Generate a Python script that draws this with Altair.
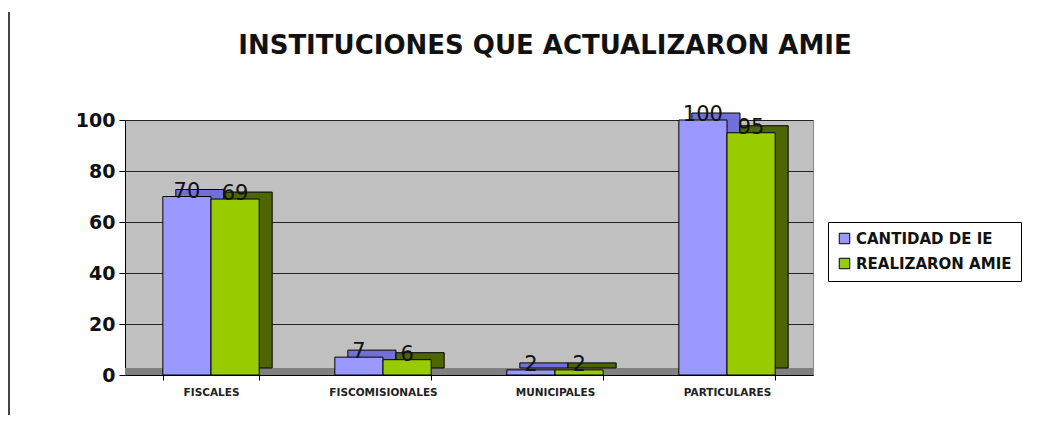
import altair as alt
import pandas as pd

categories = ["FISCALES", "FISCOMISIONALES", "MUNICIPALES", "PARTICULARES"]
series = ["CANTIDAD DE IE", "REALIZARON AMIE"]
cantidad = [70, 7, 2, 100]
realizaron = [69, 6, 2, 95]
title_text = "INSTITUCIONES QUE ACTUALIZARON AMIE"

rows = []
for c, a, b in zip(categories, cantidad, realizaron):
    rows.append({"cat": c, "serie": series[0], "val": a})
    rows.append({"cat": c, "serie": series[1], "val": b})
df = pd.DataFrame(rows)

W, H = 688, 255
FONT = "DejaVu Sans"
STEP = W / 4.0
BW = STEP * 0.56

x = alt.X("cat:N", sort=categories, title=None,
          scale=alt.Scale(paddingInner=0.44, paddingOuter=0.22),
          axis=alt.Axis(labelAngle=0, labelFont=FONT, labelFontSize=10.5, labelFontWeight="bold",
                        labelColor="#222", labelPadding=7, domainColor="#000", tickColor="#000",
                        tickBand="extent", tickSize=5, grid=False))
y = alt.Y("val:Q", title=None,
          scale=alt.Scale(domain=[0, 100]),
          axis=alt.Axis(values=[0, 20, 40, 60, 80, 100], labelFont=FONT, labelFontSize=19,
                        labelFontWeight="bold", labelColor="#111", domainColor="#000",
                        tickColor="#000", tickSize=6, labelPadding=4,
                        gridColor="#222", gridWidth=1))
xo = alt.XOffset("serie:N", sort=series)
xo_shift = alt.XOffset("serie:N", sort=series, scale=alt.Scale(range=[13, BW + 13]))

floor = alt.Chart(pd.DataFrame({"a": [0]})).mark_rect(color="#808080").encode(
    x=alt.value(0), x2=alt.value(W), y=alt.value(H - 7), y2=alt.value(H))

shadow = alt.Chart(df).mark_bar(yOffset=-7, y2Offset=-7, stroke="#000", strokeWidth=1).encode(
    x=x, y=y, xOffset=xo_shift,
    color=alt.Color("serie:N", sort=series, legend=None,
                    scale=alt.Scale(domain=series, range=["#7070d8", "#4d6600"])))

bars = alt.Chart(df).mark_bar(stroke="#000", strokeWidth=1).encode(
    x=x, y=y, xOffset=xo,
    color=alt.Color("serie:N", sort=series, title=None,
                    scale=alt.Scale(domain=series, range=["#9999ff", "#99cc00"]),
                    legend=alt.Legend(orient="none", legendX=703, legendY=102,
                                      labelFont=FONT, labelFontSize=15, labelFontWeight="bold",
                                      labelColor="#111", labelLimit=400,
                                      symbolType="square", symbolSize=110,
                                      symbolStrokeColor="#000", symbolStrokeWidth=1,
                                      strokeColor="#000", fillColor="#fff", padding=9,
                                      rowPadding=9)))

labels = alt.Chart(df).mark_text(font=FONT, fontSize=21, baseline="bottom", dy=5,
                                 color="#111").encode(
    x=x, y=y, xOffset=xo, text="val:Q")

border = alt.Chart(pd.DataFrame({"a": [0]})).mark_rule(color="#444", strokeWidth=2).encode(
    x=alt.value(-116), y=alt.value(-108), y2=alt.value(H + 40))

title = alt.Chart(pd.DataFrame({"t": [title_text]})).mark_text(
    font=FONT, fontSize=26, fontWeight="bold", color="#111", align="center", baseline="middle"
).encode(x=alt.value(W / 2 + 76), y=alt.value(-74), text="t:N")

chart = alt.layer(floor, shadow, bars, labels, border, title).resolve_scale(
    color="independent", xOffset="independent"
).properties(
    width=W, height=H,
    autosize=alt.AutoSizeParams(type="none"),
    padding={"left": 117, "top": 112, "right": 240, "bottom": 40},
).configure_view(fill="#c0c0c0", stroke="#888")

chart.save("out.html", embed_options={"renderer": "svg", "actions": False})
